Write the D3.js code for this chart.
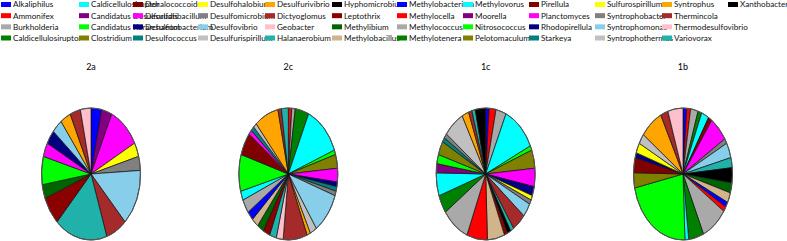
<!DOCTYPE html>
<html>
<head>
<meta charset="utf-8">
<script src="https://cdn.jsdelivr.net/npm/d3@7"></script>
<style>
  body { margin: 0; background: #fff; }
  text { font-family: Lato, 'Open Sans', sans-serif; }
</style>
</head>
<body>
<div id="app"></div>
<script>
'use strict'

// genera, in legend order (4 per column)
const genera = [
  'Alkaliphilus', 'Ammonifex', 'Burkholderia', 'Caldicellulosiruptor',
  'Caldicellulosiruptor', 'Candidatus Desulforudis', 'Candidatus Korarchaeum', 'Clostridium',
  'Dehalococcoides', 'Desulfatibacillum', 'Desulfitobacterium', 'Desulfococcus',
  'Desulfohalobium', 'Desulfomicrobium', 'Desulfovibrio', 'Desulfurispirillum',
  'Desulfurivibrio', 'Dictyoglomus', 'Geobacter', 'Halanaerobium',
  'Hyphomicrobium', 'Leptothrix', 'Methylibium', 'Methylobacillus',
  'Methylobacterium', 'Methylocella', 'Methylococcus', 'Methylotenera',
  'Methylovorus', 'Moorella', 'Nitrosococcus', 'Pelotomaculum',
  'Pirellula', 'Planctomyces', 'Rhodopirellula', 'Starkeya',
  'Sulfurospirillum', 'Syntrophobacter', 'Syntrophomonas', 'Syntrophothermus',
  'Syntrophus', 'Thermincola', 'Thermodesulfovibrio', 'Variovorax',
  'Xanthobacter'
]

const samples = ['2a', '2c', '1c', '1b']

// counts per genus (same order as genera)
const counts2a = [
  1, 0, 0, 0, 0,  1, 0, 0, 0, 3,  0, 0, 1, 1, 4,  0, 0, 2, 0, 5,
  0, 2, 1, 0, 0,  0, 0, 0, 0, 0,  2, 0, 0, 1, 1,  0, 0, 0, 1, 0,
  1, 1, 1, 0, 0
]
const counts2c = [
  0, 1, 1, 4, 11,  0, 1, 3, 0, 3,  1, 1, 0, 1, 9,  2, 1, 7, 2, 2,
  0, 2, 2, 2, 2,  0, 3, 0, 2, 0,  8, 0, 5, 1, 0,  1, 0, 0, 0, 1,
  7, 1, 0, 2, 0
]
const counts1c = [
  1, 2, 3, 0, 10,  0, 1, 4, 0, 4,  2, 0, 1, 1, 3,  0, 0, 4, 0, 1,
  1, 1, 0, 5, 0,  6, 8, 4, 5, 2,  2, 3, 0, 0, 0,  1, 0, 1, 0, 6,
  2, 1, 0, 1, 3
]
const counts1b = [
  1, 1, 2, 1, 2,  0, 0, 0, 1, 5,  0, 0, 0, 1, 3,  0, 0, 0, 0, 2,
  3, 0, 2, 2, 1,  1, 7, 4, 1, 0,  18, 3, 3, 0, 1,  0, 2, 0, 0, 2,
  6, 2, 4, 0, 0
]

const palette = [
  '#0000FF', '#FF0000', '#A9A9A9', '#008000', '#00FFFF', '#800080', '#00FF00', '#808000',
  '#800000', '#FF00FF', '#000080', '#008080', '#FFFF00', '#808080', '#87CEEB', '#C0C0C0',
  '#FFA500', '#A52A2A', '#FFC0CB', '#20B2AA', '#000000', '#8B0000', '#006400', '#D2B48C'
]

const countsBySample = { '2a': counts2a, '2c': counts2c, '1c': counts1c, '1b': counts1b }

const width = 787
const height = 241

const svg = d3.select('#app').append('svg')
  .attr('width', width)
  .attr('height', height)
  .style('background-color', '#fff')

const color = d3.scaleOrdinal()
  .domain(d3.range(genera.length))
  .range(palette)

/*
 * Legend: 4 rows, filled column by column.
 * Column left edges as laid out by the original chart.
 */
const rows = 4
const legendCols = [1, 79, 133, 198, 265, 332, 397, 463, 529, 595, 662, 728]
const legendY = d3.scaleLinear().domain([0, rows - 1]).range([4.5, 38])

const items = genera.map((name, i) => ({ name, i, col: Math.floor(i / rows), row: i % rows }))

const legend = svg.append('g').attr('class', 'legend')

legend.selectAll('text')
  .data(items)
  .join('text')
  .attr('x', d => legendCols[d.col] + 12)
  .attr('y', d => legendY(d.row))
  .attr('dy', '0.36em')
  .style('font-size', '8.1px')
  .style('fill', '#111')
  .text(d => d.name)

legend.selectAll('rect')
  .data(items)
  .join('rect')
  .attr('x', d => legendCols[d.col])
  .attr('y', d => legendY(d.row) - 2.5)
  .attr('width', 10)
  .attr('height', 5)
  .style('fill', d => color(d.i))

/*
 * Pies, squeezed into ellipses.
 */
const x = d3.scalePoint().domain(samples).range([91, 683])
const cy = 174
const rx = 49.5
const ry = 66

const pie = d3.pie().sort(null).value(d => d.value)
const arc = d3.arc().innerRadius(0).outerRadius(ry)

samples.forEach(s => {
  const data = countsBySample[s]
    .map((value, i) => ({ value, i }))
    .filter(d => d.value > 0)

  const g = svg.append('g')
    .attr('transform', `translate(${x(s)}, ${cy}) scale(${rx / ry}, 1)`)

  g.selectAll('path')
    .data(pie(data))
    .join('path')
    .attr('d', arc)
    .style('fill', d => color(d.data.i))
    .style('stroke', '#111')
    .style('stroke-width', 0.7)
    .attr('vector-effect', 'non-scaling-stroke')

  g.append('circle')
    .attr('r', ry)
    .style('fill', 'none')
    .style('stroke', '#555')
    .style('stroke-width', 1)
    .attr('vector-effect', 'non-scaling-stroke')

  svg.append('text')
    .attr('x', x(s))
    .attr('y', 67)
    .attr('dy', '0.35em')
    .attr('text-anchor', 'middle')
    .style('font-size', '9px')
    .text(s)
})
</script>
</body>
</html>
